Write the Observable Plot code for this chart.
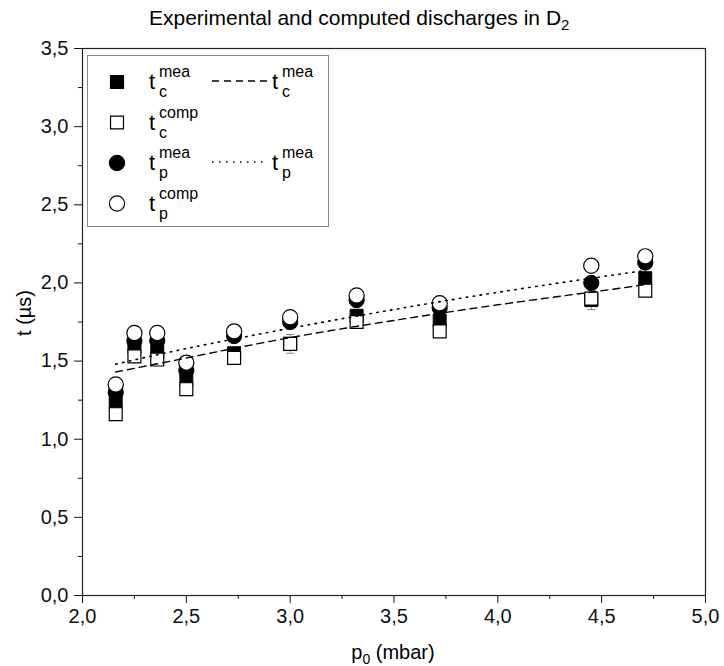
<!DOCTYPE html>
<html><head><meta charset="utf-8">
<script src="https://cdn.jsdelivr.net/npm/d3@7"></script>
<script src="https://cdn.jsdelivr.net/npm/@observablehq/plot@0.6"></script>
<style>html,body{margin:0;background:#fff;overflow:hidden} svg{display:block;font-family:"Liberation Sans",Arial,sans-serif}</style>
</head><body><div id="chart"></div><script>
// Pressure p0 (mbar)
const pressure = [2.16, 2.25, 2.36, 2.50, 2.73, 3.00, 3.32, 3.72, 4.45, 4.71];
// Times (µs)
const tcMea  = [1.24, 1.59, 1.56, 1.38, 1.55, 1.61, 1.79, 1.76, 1.89, 2.03];
const tcComp = [1.16, 1.53, 1.51, 1.32, 1.52, 1.61, 1.75, 1.69, 1.90, 1.95];
const tpMea  = [1.30, 1.63, 1.63, 1.44, 1.66, 1.75, 1.89, 1.84, 2.00, 2.13];
const tpComp = [1.35, 1.68, 1.68, 1.49, 1.69, 1.78, 1.92, 1.87, 2.11, 2.17];
const tcErr  = [0.02, 0.02, 0.02, 0.02, 0.03, 0.06, 0.02, 0.04, 0.06, 0.04];
// Fitted curves
const fitP    = [2.16, 2.50, 3.00, 3.50, 4.00, 4.50, 4.71];
const fitTc   = [1.43, 1.52, 1.65, 1.76, 1.86, 1.95, 1.99];
const fitTp   = [1.48, 1.58, 1.71, 1.83, 1.94, 2.04, 2.08];
// Ticks
const xMajor = [2.0, 2.5, 3.0, 3.5, 4.0, 4.5, 5.0];
const xMinor = [2.25, 2.75, 3.25, 3.75, 4.25, 4.75];
const yMajor = [0.0, 0.5, 1.0, 1.5, 2.0, 2.5, 3.0, 3.5];
const yMinor = [0.25, 0.75, 1.25, 1.75, 2.25, 2.75, 3.25];

const fmt = d => d.toFixed(1).replace(".", ",");
const pts = pressure.map((p, i) => ({p, tcMea: tcMea[i], tcComp: tcComp[i], tpMea: tpMea[i], tpComp: tpComp[i], lo: tcMea[i] - tcErr[i], hi: tcMea[i] + tcErr[i]}));
const fit = fitP.map((p, i) => ({p, tc: fitTc[i], tp: fitTp[i]}));
const caps = pts.flatMap(d => [{p: d.p, y: d.lo}, {p: d.p, y: d.hi}]);
const hline = {draw(ctx, size) { const w = Math.sqrt(size); ctx.moveTo(-w / 2, 0); ctx.lineTo(w / 2, 0); }};

const W = 724, H = 666;
const plot = Plot.plot({
  width: W, height: H,
  marginLeft: 82, marginRight: 19, marginTop: 48, marginBottom: 71,
  style: {fontFamily: '"Liberation Sans", Arial, sans-serif', fontSize: "20px", color: "#111", background: "#fff"},
  x: {domain: [2, 5]},
  y: {domain: [0, 3.5]},
  marks: [
    Plot.ruleX(pts, {x: "p", y1: "lo", y2: "hi", stroke: "#888", strokeWidth: 1}),
    Plot.dot(caps, {x: "p", y: "y", symbol: hline, r: 4.5, stroke: "#888", strokeWidth: 1}),
    Plot.dot(pts, {x: "p", y: "tcMea", symbol: "square", r: 7.3, fill: "#000", stroke: "#000", strokeWidth: 1}),
    Plot.dot(pts, {x: "p", y: "tcComp", symbol: "square", r: 7.3, fill: "#fff", stroke: "#000", strokeWidth: 1.2}),
    Plot.dot(pts, {x: "p", y: "tpMea", symbol: "circle", r: 7.6, fill: "#000", stroke: "#000", strokeWidth: 1}),
    Plot.dot(pts, {x: "p", y: "tpComp", symbol: "circle", r: 7.6, fill: "#fff", stroke: "#000", strokeWidth: 1.2}),
    Plot.line(fit, {x: "p", y: "tc", curve: "natural", stroke: "#000", strokeWidth: 1.4, strokeDasharray: "7,5"}),
    Plot.line(fit, {x: "p", y: "tp", curve: "natural", stroke: "#000", strokeWidth: 1.6, strokeDasharray: "1.5,5.5"}),
    Plot.axisX({ticks: xMajor, tickSize: 8, tickPadding: 5, tickFormat: fmt, label: null}),
    Plot.axisX({ticks: xMinor, tickSize: 4, tickFormat: () => "", label: null}),
    Plot.axisY({ticks: yMajor, tickSize: 8, tickPadding: 6, tickFormat: fmt, label: null}),
    Plot.axisY({ticks: yMinor, tickSize: 4, tickFormat: () => "", label: null}),
    Plot.frame({stroke: "#222", strokeWidth: 1.2})
  ]
});
document.getElementById("chart").appendChild(plot);

const svg = d3.select(plot);
// Title
const title = svg.append("text").attr("x", 149).attr("y", 25).attr("text-anchor", "start")
  .attr("font-size", 21).attr("fill", "#000");
title.append("tspan").text("Experimental and computed discharges in D");
title.append("tspan").attr("font-size", 15).attr("dy", 5).text("2");
// X label
const xl = svg.append("text").attr("x", 393).attr("y", 659).attr("text-anchor", "middle").attr("font-size", 20).attr("fill", "#000");
xl.append("tspan").text("p");
xl.append("tspan").attr("font-size", 14).attr("dy", 5).text("0");
xl.append("tspan").attr("dy", -5).text(" (mbar)");
// Y label
svg.append("text").attr("transform", "translate(31,313) rotate(-90)").attr("text-anchor", "middle")
  .attr("font-size", 20).attr("fill", "#000").text("t (µs)");

// Legend
const legendRows = [
  {sym: "square", fill: "#000", sub: "c", sup: "mea", dash: "7,5"},
  {sym: "square", fill: "#fff", sub: "c", sup: "comp", dash: null},
  {sym: "circle", fill: "#000", sub: "p", sup: "mea", dash: "1.5,5.5"},
  {sym: "circle", fill: "#fff", sub: "p", sup: "comp", dash: null}
];
const lg = svg.append("g");
lg.append("rect").attr("x", 87.5).attr("y", 55.5).attr("width", 241).attr("height", 171)
  .attr("fill", "#fff").attr("stroke", "#888").attr("stroke-width", 1);
legendRows.forEach((r, i) => {
  const y = 82 + i * 40.5;
  const sym = d3.symbol().type(r.sym === "square" ? d3.symbolSquare : d3.symbolCircle).size(r.sym === "square" ? 7.3 * 7.3 * Math.PI : 7.6 * 7.6 * Math.PI);
  lg.append("path").attr("d", sym()).attr("transform", `translate(117,${y})`).attr("fill", r.fill).attr("stroke", "#000").attr("stroke-width", 1.2);
  const lab = (x) => {
    lg.append("text").attr("x", x).attr("y", y + 7).attr("font-size", 22).attr("fill", "#000").attr("text-anchor", "start").text("t");
    lg.append("text").attr("x", x + 10).attr("y", y - 5).attr("font-size", 16).attr("fill", "#000").attr("text-anchor", "start").text(r.sup);
    lg.append("text").attr("x", x + 10).attr("y", y + 15).attr("font-size", 16).attr("fill", "#000").attr("text-anchor", "start").text(r.sub);
  };
  lab(149);
  if (r.dash) {
    lg.append("line").attr("x1", 212).attr("x2", 268).attr("y1", y - 1).attr("y2", y - 1)
      .attr("stroke", "#000").attr("stroke-width", r.dash.startsWith("1.5") ? 1.6 : 1.4).attr("stroke-dasharray", r.dash);
    lab(272);
  }
});
</script></body></html>
